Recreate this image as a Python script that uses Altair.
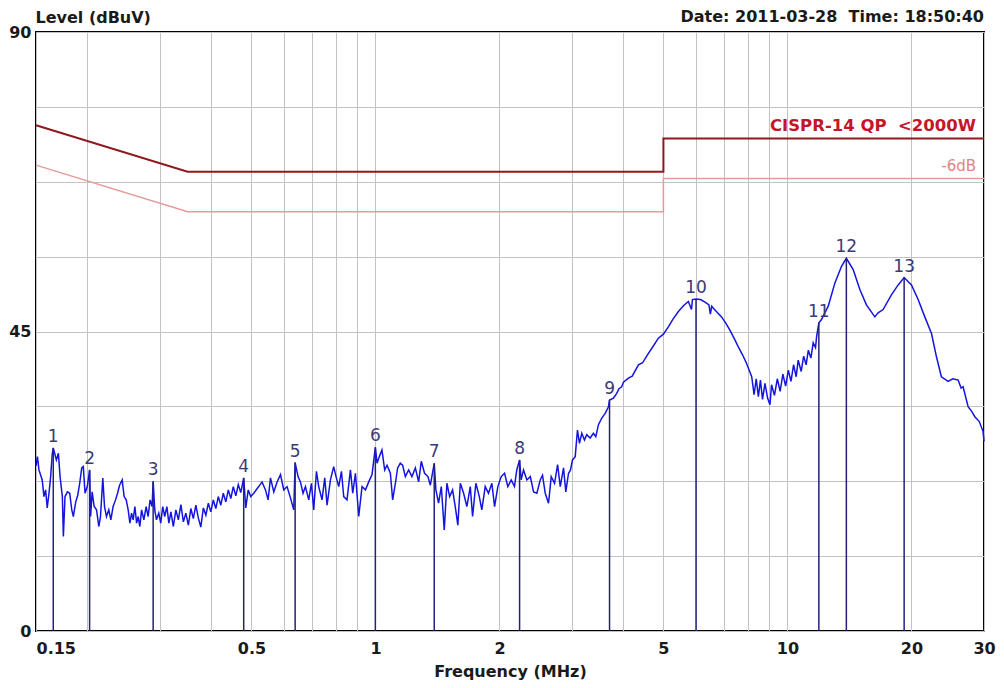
import altair as alt
import pandas as pd

# ---- measured trace (MHz, dBuV) ----
trace_freq = [
    0.1500, 0.1512, 0.1525, 0.1553, 0.1568, 0.1583, 0.1597, 0.1613, 0.1628, 0.1643,
    0.1652, 0.1681, 0.1700, 0.1716, 0.1738, 0.1748, 0.1764, 0.1788, 0.1811, 0.1832,
    0.1848, 0.1873, 0.1894, 0.1915, 0.1937, 0.1954, 0.1973, 0.1998, 0.2024, 0.2035,
    0.2053, 0.2076, 0.2104, 0.2131, 0.2151, 0.2179, 0.2200, 0.2224, 0.2253, 0.2279,
    0.2308, 0.2340, 0.2366, 0.2393, 0.2428, 0.2455, 0.2483, 0.2511, 0.2535, 0.2559,
    0.2582, 0.2607, 0.2632, 0.2655, 0.2680, 0.2706, 0.2741, 0.2776, 0.2807, 0.2838,
    0.2870, 0.2887, 0.2913, 0.2941, 0.2979, 0.3012, 0.3046, 0.3080, 0.3117, 0.3152,
    0.3188, 0.3232, 0.3278, 0.3324, 0.3371, 0.3418, 0.3466, 0.3515, 0.3564, 0.3614,
    0.3665, 0.3716, 0.3768, 0.3822, 0.3876, 0.3930, 0.3985, 0.4041, 0.4098, 0.4155,
    0.4214, 0.4273, 0.4333, 0.4394, 0.4456, 0.4518, 0.4582, 0.4646, 0.4711, 0.4789,
    0.4844, 0.4912, 0.4981, 0.5065, 0.5208, 0.5305, 0.5409, 0.5488, 0.5562, 0.5666,
    0.5771, 0.5882, 0.5991, 0.6102, 0.6219, 0.6335, 0.6384, 0.6488, 0.6576, 0.6673,
    0.6762, 0.6888, 0.6992, 0.7083, 0.7191, 0.7284, 0.7419, 0.7533, 0.7631, 0.7776,
    0.7920, 0.8023, 0.8145, 0.8270, 0.8375, 0.8530, 0.8696, 0.8808, 0.8942, 0.9108,
    0.9278, 0.9456, 0.9632, 0.9811, 0.9995, 1.009, 1.022, 1.037, 1.053, 1.067,
    1.087, 1.101, 1.118, 1.132, 1.149, 1.164, 1.182, 1.204, 1.226, 1.250,
    1.273, 1.292, 1.316, 1.341, 1.359, 1.389, 1.402, 1.423, 1.445, 1.469,
    1.491, 1.514, 1.539, 1.562, 1.585, 1.607, 1.637, 1.667, 1.699, 1.721,
    1.753, 1.787, 1.812, 1.847, 1.881, 1.917, 1.946, 1.982, 2.020, 2.058,
    2.096, 2.136, 2.175, 2.203, 2.238, 2.258, 2.288, 2.331, 2.376, 2.420,
    2.465, 2.512, 2.544, 2.583, 2.631, 2.671, 2.721, 2.768, 2.809, 2.861,
    2.898, 2.942, 2.975, 3.008, 3.054, 3.093, 3.128, 3.168, 3.216, 3.258,
    3.320, 3.381, 3.426, 3.478, 3.543, 3.611, 3.678, 3.700, 3.782, 3.852,
    3.900, 3.961, 4.000, 4.112, 4.200, 4.349, 4.450, 4.598, 4.700, 4.861,
    5.000, 5.140, 5.280, 5.437, 5.600, 5.749, 5.850, 5.880, 6.000, 6.150,
    6.310, 6.450, 6.500, 6.550, 6.610, 6.750, 6.920, 7.080, 7.250, 7.420,
    7.600, 7.780, 7.960, 8.190, 8.300, 8.400, 8.500, 8.600, 8.700, 8.820,
    8.950, 9.070, 9.150, 9.300, 9.450, 9.600, 9.750, 9.900, 10.05, 10.20,
    10.35, 10.50, 10.62, 10.80, 10.95, 11.10, 11.24, 11.40, 11.55, 11.70,
    11.77, 11.92, 12.10, 12.56, 13.04, 13.53, 13.90, 14.44, 14.99, 15.55,
    16.30, 16.60, 17.07, 17.88, 18.57, 19.20, 20.00, 20.76, 21.55, 22.37,
    23.00, 23.64, 24.55, 25.20, 25.96, 26.40, 26.69, 27.45, 28.00, 28.50,
    29.20, 29.84, 30.00,
]
trace_level = [
    24.8, 26.2, 24.2, 22.7, 20.2, 21.2, 18.5, 20.7, 23.2, 26.7,
    27.5, 25.7, 26.7, 23.2, 20.2, 14.2, 20.2, 20.9, 20.7, 18.2,
    17.2, 19.4, 20.4, 22.2, 24.5, 24.7, 20.7, 21.7, 24.2, 17.2,
    20.9, 18.7, 18.2, 15.7, 17.2, 23.0, 18.7, 17.2, 18.2, 16.7,
    18.7, 19.7, 20.7, 21.9, 22.7, 20.2, 19.7, 18.2, 16.2, 17.7,
    16.7, 18.7, 16.2, 17.2, 15.7, 18.2, 16.7, 18.7, 17.2, 19.7,
    18.7, 22.5, 18.2, 16.7, 17.7, 16.2, 18.7, 17.2, 18.7, 16.2,
    17.9, 15.7, 18.2, 16.7, 19.0, 16.4, 17.7, 15.9, 18.4, 16.9,
    18.9, 17.0, 15.6, 18.5, 17.4, 19.2, 17.9, 19.7, 18.4, 20.2,
    18.9, 20.7, 19.4, 21.2, 19.9, 21.7, 20.3, 22.0, 20.8, 23.0,
    18.5, 21.2, 20.2, 20.7, 21.7, 22.4, 21.2, 19.7, 23.0, 20.9,
    22.4, 23.5, 21.2, 21.7, 20.0, 18.2, 25.3, 23.2, 22.4, 20.7,
    21.7, 19.7, 22.2, 18.2, 24.0, 21.7, 19.7, 23.0, 18.9, 22.7,
    24.7, 23.2, 21.7, 24.0, 20.2, 19.7, 24.2, 20.7, 23.7, 17.2,
    21.7, 21.2, 22.4, 23.5, 27.6, 25.2, 26.2, 27.2, 24.2, 24.9,
    23.7, 19.7, 22.2, 24.5, 25.2, 24.9, 23.2, 24.2, 23.2, 24.5,
    22.4, 25.5, 23.7, 23.2, 21.9, 25.2, 21.2, 19.2, 21.7, 15.2,
    22.2, 20.2, 21.2, 18.7, 15.9, 22.2, 20.7, 18.7, 21.7, 17.2,
    22.2, 20.2, 18.2, 21.7, 20.7, 22.2, 18.7, 21.7, 23.2, 23.7,
    21.7, 22.7, 21.7, 24.2, 25.7, 22.7, 24.2, 22.7, 23.2, 20.9,
    20.7, 22.7, 23.4, 20.7, 19.2, 23.2, 22.2, 25.0, 21.7, 24.5,
    20.9, 23.7, 24.2, 25.7, 26.2, 30.2, 28.2, 29.7, 28.7, 29.5,
    29.0, 29.7, 29.2, 31.0, 32.0, 32.7, 33.7, 34.7, 35.0, 35.7,
    36.4, 36.7, 37.4, 38.0, 38.3, 40.0, 40.3, 41.7, 42.6, 44.0,
    44.6, 45.7, 46.9, 48.0, 48.9, 49.5, 48.3, 49.8, 49.9, 49.8,
    49.4, 49.0, 47.6, 48.8, 48.5, 47.9, 47.2, 46.3, 45.2, 44.0,
    42.7, 41.5, 40.2, 38.2, 35.5, 37.9, 35.2, 37.7, 34.8, 37.2,
    35.0, 34.0, 37.0, 35.4, 37.9, 36.0, 38.6, 36.8, 39.2, 37.5,
    40.0, 38.2, 40.7, 39.0, 41.3, 40.0, 42.2, 41.0, 43.3, 42.6,
    44.2, 46.3, 46.8, 48.8, 52.3, 54.8, 56.0, 54.3, 51.3, 49.0,
    47.2, 47.8, 48.3, 50.5, 52.0, 53.1, 52.0, 49.8, 47.2, 44.7,
    41.2, 38.2, 37.5, 37.9, 37.7, 36.5, 36.7, 33.7, 33.0, 32.2,
    31.5, 30.0, 28.5,
]

# ---- markers ----
marker_freq = [0.1652, 0.2024, 0.2887, 0.4789, 0.6384, 0.9995, 1.389, 2.238, 3.700, 6.000, 11.92, 13.90, 19.20]
marker_level = [27.5, 24.2, 22.5, 23.0, 25.3, 27.6, 25.2, 25.7, 34.7, 49.9, 46.3, 56.0, 53.1]
marker_label = ["1", "2", "3", "4", "5", "6", "7", "8", "9", "10", "11", "12", "13"]

# ---- limit lines ----
limit_freq = [0.15, 0.35, 5.0, 5.0, 30.0]
limit_qp = [76.0, 69.0, 69.0, 74.0, 74.0]
limit_6db = [70.0, 63.0, 63.0, 68.0, 68.0]

# ---- axes ----
x_grid = [0.15, 0.2, 0.3, 0.4, 0.5, 0.6, 0.7, 0.8, 0.9, 1, 2, 3, 4, 5, 6, 7, 8, 9, 10, 20, 30]
x_labels = [0.15, 0.5, 1, 2, 5, 10, 20, 30]
y_grid = [0, 11.25, 22.5, 33.75, 45, 56.25, 67.5, 78.75, 90]
y_labels = [0, 45, 90]

FONT = "DejaVu Sans"
NB = "\u00a0"
W, H = 948, 599

trace_df = pd.DataFrame({"f": trace_freq, "lvl": trace_level})
marker_df = pd.DataFrame({"f": marker_freq, "lvl": marker_level, "lab": marker_label,
                          "base": [0.0] * len(marker_freq)})
limit_df = pd.DataFrame({
    "f": limit_freq * 2,
    "lvl": limit_qp + limit_6db,
    "which": ["qp"] * 5 + ["m6"] * 5,
    "idx": list(range(5)) * 2,
})

xlab_js = "[" + ",".join(str(v) for v in x_labels) + "]"
ylab_js = "[" + ",".join(str(v) for v in y_labels) + "]"

xscale = alt.Scale(type="log", domain=[0.15, 30], nice=False)
yscale = alt.Scale(domain=[0, 90], nice=False, zero=False)

X = alt.X("f:Q", scale=xscale, axis=alt.Axis(
    values=x_grid, format="~g",
    labelExpr=f"indexof({xlab_js}, datum.value) >= 0 ? datum.label : ''",
    labelAlign={"condition": {"test": "datum.value < 0.16", "value": "left"}, "value": "center"},
    labelFlush=False, labelOverlap=False, labelBound=False,
    ticks=False, domain=False, grid=True, gridColor="#c2c2c2", gridWidth=1,
    labelPadding=9, labelFont=FONT, labelFontSize=16, labelFontWeight="bold", labelColor="#1a1a1a",
    title="Frequency (MHz)", titleFont=FONT, titleFontSize=16, titleFontWeight="bold",
    titleColor="#1a1a1a", titlePadding=7,
))
Y = alt.Y("lvl:Q", scale=yscale, axis=alt.Axis(
    values=y_grid, format="d",
    labelExpr=f"indexof({ylab_js}, datum.value) >= 0 ? datum.label : ''",
    labelOverlap=False, labelBound=False, labelFlush=False,
    ticks=False, domain=False, grid=True, gridColor="#c2c2c2", gridWidth=1,
    labelPadding=5, labelFont=FONT, labelFontSize=16, labelFontWeight="bold", labelColor="#1a1a1a",
    title="Level (dBuV)", titleAngle=0, titleX=-1, titleY=-10, titleAlign="left",
    titleBaseline="alphabetic", titleFont=FONT, titleFontSize=16, titleFontWeight="bold",
    titleColor="#1a1a1a",
))

trace = alt.Chart(trace_df).mark_line(color="#1414e0", strokeWidth=1.5).encode(x=X, y=Y)

rules = alt.Chart(marker_df).mark_rule(color="#22227a", strokeWidth=1.5).encode(
    x=X, y=Y, y2="base:Q")

mlabels = alt.Chart(marker_df).mark_text(
    font=FONT, fontSize=17, color="#3a3a78", baseline="alphabetic", dy=-6, align="center"
).encode(x=X, y=Y, text="lab:N")

lim_qp = alt.Chart(limit_df).transform_filter("datum.which == 'qp'").mark_line(
    color="#8e1a1e", strokeWidth=2).encode(x=X, y=Y, order="idx:Q")
lim_6 = alt.Chart(limit_df).transform_filter("datum.which == 'm6'").mark_line(
    color="#e59a9a", strokeWidth=1.5).encode(x=X, y=Y, order="idx:Q")

text_df = pd.DataFrame({
    "f": [30.0, 30.0, 30.0],
    "lvl": [limit_qp[-1], limit_6db[-1], 90.0],
    "txt": ["CISPR-14 QP " + NB + "<2000W", "-6dB", "Date: 2011-03-28 " + NB + "Time: 18:50:40"],
})
lab_qp = alt.Chart(text_df.iloc[[0]]).mark_text(
    font=FONT, fontSize=16.5, fontWeight="bold", color="#c4162a", align="right",
    baseline="alphabetic", dx=-8, dy=-7).encode(x=X, y=Y, text="txt:N")
lab_6 = alt.Chart(text_df.iloc[[1]]).mark_text(
    font=FONT, fontSize=15, color="#e58282", align="right",
    baseline="alphabetic", dx=-8, dy=-7).encode(x=X, y=Y, text="txt:N")
lab_date = alt.Chart(text_df.iloc[[2]]).mark_text(
    font=FONT, fontSize=16, fontWeight="bold", color="#1a1a1a", align="right",
    baseline="alphabetic", dy=-10).encode(x=X, y=Y, text="txt:N")

chart = alt.layer(trace, lim_6, lim_qp, rules, mlabels, lab_qp, lab_6, lab_date).properties(
    width=W, height=H,
    autosize=alt.AutoSizeParams(type="none"),
    padding={"left": 28, "top": 24, "right": 12, "bottom": 49},
    background="white",
).configure_view(stroke="black", strokeWidth=2)

chart.save("out.html", embed_options={"renderer": "svg", "actions": False})
